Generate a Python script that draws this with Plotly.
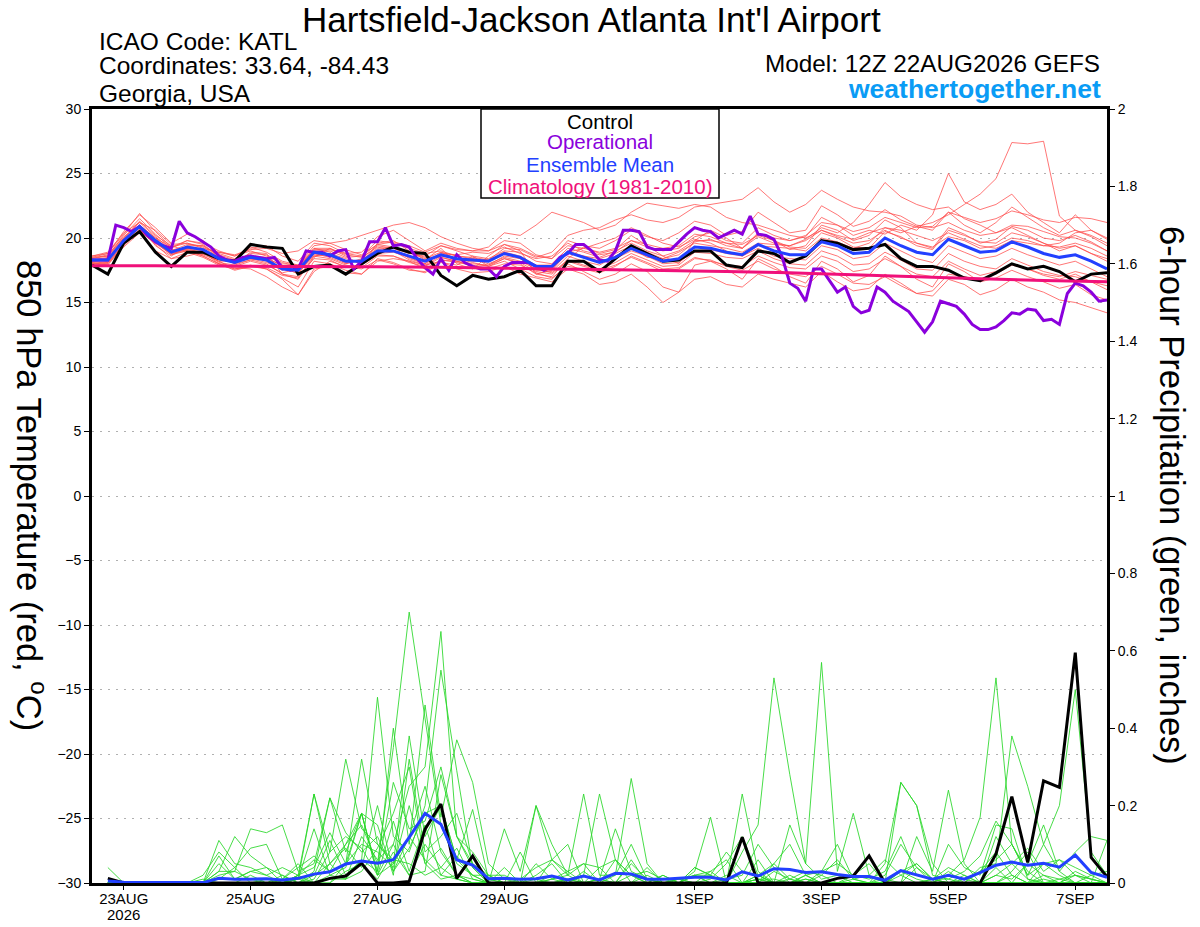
import plotly.graph_objects as go
import pandas as pd

# ---------------- DATA ----------------
run_start = "2026-08-22 12:00"
n6 = 65      # 6-hourly steps (GEFS)
n3 = 129     # 3-hourly steps (operational)
n24 = 17     # daily climatology

tick_dates = ["2026-08-23", "2026-08-25", "2026-08-27", "2026-08-29",
              "2026-09-01", "2026-09-03", "2026-09-05", "2026-09-07"]
tick_labels = ["23AUG", "25AUG", "27AUG", "29AUG", "1SEP", "3SEP", "5SEP", "7SEP"]
year_label = "2026"

control_temp = [17.9, 17.2, 19.6, 20.5, 18.9, 17.8, 18.9, 18.9, 18.4, 18.2,
                19.5, 19.3, 19.2, 17.2, 17.8, 17.9, 17.2, 18.0, 18.8, 19.3,
                18.9, 18.8, 17.1, 16.3, 17.1, 16.8, 17.0, 17.5, 16.3, 16.3,
                18.2, 18.2, 17.4, 18.4, 19.4, 18.8, 18.2, 18.3, 19.0, 19.0,
                17.9, 17.7, 19.0, 18.8, 18.1, 18.6, 19.8, 19.6, 19.1, 19.2,
                19.5, 18.4, 17.8, 17.8, 17.5, 16.9, 16.7, 17.3, 18.0, 17.6,
                17.8, 17.4, 16.6, 17.2, 17.3]

ens_mean_temp = [18.3, 18.3, 19.8, 20.9, 19.8, 18.9, 19.3, 19.1, 18.4, 18.1,
                 18.5, 18.3, 17.6, 17.5, 18.9, 18.7, 18.2, 18.2, 19.0, 19.0,
                 18.6, 18.2, 18.7, 18.4, 18.3, 18.2, 18.8, 18.5, 17.8, 17.8,
                 18.9, 18.5, 18.1, 18.5, 19.2, 18.7, 18.2, 18.4, 19.3, 19.2,
                 18.9, 18.7, 19.5, 19.0, 18.7, 18.7, 19.7, 19.4, 18.8, 18.9,
                 20.0, 19.4, 18.9, 18.7, 19.9, 19.4, 18.9, 19.0, 19.7, 19.3,
                 18.8, 18.5, 18.7, 18.2, 17.6]

operational_temp = [18.3, 18.3, 18.3, 21.0, 20.8, 20.5, 20.9, 20.2, 19.7, 19.4,
                    19.2, 21.3, 20.4, 20.1, 19.7, 19.3, 18.6, 18.3, 18.2, 18.5,
                    18.6, 18.5, 18.4, 18.5, 17.7, 17.5, 17.6, 19.0, 18.9, 18.9,
                    18.6, 19.0, 19.1, 17.6, 18.2, 19.7, 19.7, 20.8, 19.4, 19.5,
                    19.3, 18.4, 17.7, 17.2, 18.4, 17.5, 18.7, 18.1, 17.8, 17.6,
                    17.6, 17.0, 17.8, 18.1, 18.1, 18.1, 17.8, 17.5, 17.8, 18.5,
                    18.8, 19.5, 19.5, 19.0, 18.3, 18.2, 19.0, 20.6, 20.6, 20.5,
                    19.3, 19.1, 19.1, 19.1, 19.7, 20.3, 20.8, 20.6, 20.5, 20.0,
                    20.3, 20.6, 20.3, 21.7, 20.3, 20.2, 19.9, 18.6, 16.5, 16.1,
                    15.1, 17.6, 17.6, 16.7, 15.8, 16.2, 14.7, 14.2, 14.4, 16.2,
                    15.8, 15.1, 14.7, 14.3, 13.5, 12.7, 13.5, 15.1, 14.9, 14.7,
                    14.1, 13.3, 12.9, 12.9, 13.1, 13.6, 14.2, 14.1, 14.5, 14.4,
                    13.6, 13.7, 13.3, 15.7, 16.5, 16.3, 15.8, 15.1, 15.2]

climatology_temp = [17.85, 17.85, 17.82, 17.8, 17.78, 17.75, 17.7, 17.62, 17.55,
                    17.48, 17.4, 17.3, 17.15, 17.0, 16.85, 16.7, 16.6]

temp_members = [
    [18.4, 18.6, 20.2, 21.5, 20.3, 19.2, 19.8, 19.5, 18.6, 18.0, 18.9, 18.8, 17.2, 16.8, 18.5,
     19.2, 18.6, 17.9, 19.6, 19.8, 19.0, 18.3, 19.2, 18.0, 17.6, 18.6, 19.5, 19.0, 17.2, 17.0,
     18.4, 19.3, 18.8, 19.1, 20.2, 19.4, 18.6, 18.0, 19.8, 20.6, 20.0, 19.2, 20.4, 19.8, 19.1,
     19.4, 21.0, 20.6, 19.8, 20.2, 21.4, 20.8, 19.6, 19.2, 20.8, 20.3, 19.6, 19.9, 20.9, 20.6,
     20.0, 19.8, 20.2, 19.7, 19.0],
    [18.1, 17.9, 19.4, 20.6, 19.5, 18.4, 18.6, 18.9, 18.2, 17.6, 17.9, 17.6, 16.9, 16.2, 18.2,
     18.0, 17.5, 17.2, 18.4, 18.1, 17.6, 17.3, 18.1, 17.9, 18.6, 17.8, 18.2, 17.6, 17.0, 16.8,
     18.0, 17.4, 16.8, 17.2, 18.0, 17.4, 16.2, 15.8, 17.9, 18.2, 17.6, 16.8, 18.4, 17.8, 17.0,
     16.5, 18.2, 17.6, 16.6, 17.1, 18.6, 17.8, 16.8, 16.2, 18.0, 17.4, 16.6, 16.9, 17.5, 17.0,
     16.6, 16.1, 16.4, 15.6, 15.2],
    [18.5, 18.8, 20.5, 21.8, 20.8, 19.6, 20.3, 19.8, 18.8, 18.4, 19.2, 19.4, 18.6, 18.2, 19.6,
     19.4, 18.8, 18.9, 20.1, 20.6, 19.8, 19.0, 19.6, 19.2, 19.0, 19.0, 19.8, 19.6, 18.7, 18.4,
     19.8, 19.4, 19.2, 19.8, 20.6, 20.1, 19.8, 20.4, 21.3, 21.0, 20.2, 20.5, 22.0, 21.2, 20.4,
     20.6, 22.5, 21.8, 20.9, 21.3, 22.2, 21.4, 20.9, 20.6, 22.0, 21.0, 20.4, 21.2, 22.4, 21.6,
     20.8, 20.2, 20.6, 20.1, 19.4],
    [18.2, 18.4, 19.6, 20.5, 19.6, 18.7, 19.0, 18.6, 18.0, 17.8, 18.2, 17.9, 17.3, 17.6, 19.2,
     18.9, 18.0, 18.4, 19.4, 19.2, 18.8, 18.6, 19.4, 19.0, 18.6, 18.4, 19.0, 18.9, 18.2, 18.0,
     19.2, 18.9, 18.5, 19.0, 19.6, 19.0, 18.6, 19.0, 19.8, 19.8, 19.6, 19.2, 20.1, 19.6, 19.4,
     19.8, 20.6, 20.2, 19.9, 20.4, 20.8, 20.4, 20.9, 21.2, 21.8, 22.6, 23.4, 24.6, 27.4, 27.3,
     27.5, 21.7, 20.6, 20.2, 19.6],
    [18.6, 18.9, 20.4, 21.2, 20.6, 19.5, 19.6, 19.2, 18.9, 18.6, 19.0, 18.6, 18.0, 17.9, 19.4,
     19.6, 19.1, 18.7, 19.5, 19.3, 18.4, 18.0, 18.8, 18.7, 18.9, 18.8, 19.3, 18.8, 18.4, 18.6,
     19.6, 19.0, 18.7, 18.9, 19.8, 19.3, 19.0, 19.2, 20.1, 20.4, 19.8, 19.6, 20.8, 20.2, 19.8,
     20.1, 21.6, 21.0, 20.2, 20.6, 20.3, 21.0, 20.6, 21.8, 25.0, 22.8, 22.2, 22.6, 23.4, 22.0,
     21.2, 20.4, 21.8, 20.6, 19.9],
    [18.0, 18.2, 19.9, 21.0, 19.4, 18.6, 19.4, 19.4, 18.7, 18.3, 18.6, 18.5, 17.8, 17.2, 18.8,
     18.5, 18.0, 18.3, 19.2, 19.3, 18.9, 18.5, 18.5, 18.2, 17.8, 17.9, 18.6, 18.4, 17.5, 17.4,
     18.6, 18.2, 17.9, 18.6, 19.2, 18.5, 18.4, 18.9, 19.6, 19.4, 19.2, 18.9, 19.6, 19.5, 19.4,
     19.9, 20.8, 20.4, 21.2, 22.6, 24.3, 23.2, 22.6, 22.2, 22.4, 21.5, 21.0, 20.4, 20.8, 20.2,
     19.6, 19.0, 19.4, 18.8, 18.2],
    [18.3, 18.5, 20.0, 21.2, 20.1, 19.1, 19.2, 18.8, 18.3, 18.3, 18.7, 18.2, 17.5, 17.8, 19.0,
     19.0, 18.5, 18.6, 19.8, 19.6, 19.2, 18.8, 19.0, 18.6, 18.4, 18.3, 19.2, 19.1, 18.5, 18.9,
     20.2, 20.6, 20.8, 21.4, 21.8, 21.4, 21.2, 21.6, 22.4, 22.6, 22.8, 23.0, 23.9, 22.8, 22.0,
     22.6, 23.7, 23.0, 22.4, 22.1, 22.0, 21.7, 21.0, 20.8, 21.2, 20.6, 20.2, 20.4, 21.0, 20.9,
     20.5, 20.1, 20.0, 19.6, 19.0],
    [17.9, 18.0, 19.3, 20.4, 19.0, 18.4, 18.9, 18.5, 17.9, 17.6, 17.8, 17.6, 16.8, 15.6, 17.6,
     17.8, 17.3, 17.2, 18.2, 18.4, 18.2, 17.9, 18.2, 17.6, 17.3, 17.4, 17.8, 17.2, 16.9, 16.6,
     17.6, 17.2, 16.4, 16.6, 17.2, 16.2, 15.0, 15.8, 16.8, 17.0, 16.4, 16.2, 17.2, 16.8, 16.5,
     16.2, 17.4, 16.6, 15.9, 16.1, 17.2, 16.5, 15.7, 15.5, 16.8, 16.4, 15.6, 16.0, 16.8, 16.2,
     15.8, 15.2, 15.0, 14.6, 14.2],
    [18.2, 18.3, 19.7, 20.8, 19.9, 19.0, 19.1, 18.7, 18.2, 18.2, 18.4, 18.1, 17.6, 17.3, 18.6,
     18.8, 18.4, 18.0, 18.8, 18.9, 18.5, 18.0, 18.9, 18.6, 18.5, 18.3, 18.9, 18.4, 17.8, 17.6,
     18.8, 18.6, 18.2, 18.4, 19.0, 18.6, 18.0, 18.1, 19.0, 19.1, 18.8, 18.6, 19.2, 18.6, 18.4,
     18.3, 19.4, 19.1, 18.4, 18.6, 19.6, 19.0, 18.4, 18.1, 19.4, 18.9, 18.4, 18.6, 19.2, 18.7,
     18.3, 17.9, 18.2, 17.6, 17.0],
    [18.4, 18.7, 20.1, 21.0, 20.0, 19.3, 19.6, 19.3, 18.5, 18.2, 18.8, 18.7, 18.1, 17.8, 19.1,
     19.1, 18.8, 18.6, 19.5, 19.7, 19.4, 18.9, 19.4, 19.1, 19.0, 19.3, 20.4, 20.2, 21.0, 22.0,
     21.6, 21.2, 20.6, 21.0, 22.0, 22.7, 22.5, 22.3, 22.6, 22.4, 21.6, 21.2, 21.0, 20.6, 20.2,
     20.0, 20.6, 20.1, 19.6, 19.8, 20.6, 20.0, 19.6, 19.3, 20.1, 19.8, 19.2, 19.4, 20.0, 19.8,
     19.4, 19.3, 19.6, 19.2, 18.6],
    [18.1, 18.0, 19.5, 20.7, 19.6, 18.8, 19.1, 18.9, 18.0, 17.7, 17.6, 17.0, 16.2, 15.6, 17.4,
     18.2, 17.8, 17.6, 18.3, 18.0, 17.5, 17.4, 18.3, 18.1, 17.9, 17.6, 18.0, 17.9, 17.3, 16.9,
     17.8, 17.6, 17.3, 17.8, 18.6, 18.1, 17.6, 17.7, 18.5, 18.2, 17.9, 17.8, 18.6, 18.1, 17.7,
     17.6, 18.6, 18.2, 17.4, 17.6, 18.4, 17.8, 17.2, 17.0, 18.2, 17.6, 17.1, 17.4, 18.0, 17.6,
     17.1, 16.8, 17.2, 16.6, 16.0],
    [18.5, 18.6, 20.0, 21.3, 20.2, 19.4, 19.0, 18.7, 18.9, 18.7, 19.1, 19.2, 18.8, 19.0, 19.8,
     19.6, 19.8, 20.2, 20.6, 21.0, 21.2, 20.8, 20.1, 19.6, 19.2, 19.0, 19.5, 19.2, 18.6, 18.4,
     19.4, 19.2, 18.9, 19.2, 19.8, 19.5, 19.2, 19.4, 20.3, 20.1, 19.6, 19.5, 20.2, 19.8, 19.3,
     19.2, 20.4, 20.0, 19.3, 19.2, 20.5, 20.1, 19.4, 19.1, 20.6, 20.2, 19.7, 19.6, 20.4, 20.1,
     19.6, 19.2, 19.4, 18.8, 18.4],
    [18.3, 18.4, 19.8, 21.0, 20.0, 19.0, 19.5, 19.4, 18.6, 18.0, 18.3, 18.4, 17.9, 17.4, 18.7,
     18.6, 18.1, 18.3, 19.1, 19.2, 18.9, 18.4, 18.9, 18.4, 18.2, 18.2, 18.9, 18.6, 17.9, 17.9,
     19.0, 18.6, 18.4, 18.8, 19.4, 18.9, 18.4, 18.7, 19.7, 19.9, 19.4, 19.2, 20.3, 20.0, 19.8,
     20.2, 21.2, 21.0, 20.5, 20.8, 21.6, 21.2, 20.8, 20.9, 22.0, 21.6, 21.2, 21.5, 22.1, 21.8,
     21.4, 21.2, 21.6, 21.5, 21.2],
    [18.0, 18.1, 19.5, 20.6, 19.7, 18.7, 19.2, 19.0, 18.1, 17.9, 18.3, 18.0, 17.2, 17.0, 18.4,
     18.3, 17.7, 17.9, 18.7, 18.6, 18.1, 17.8, 18.5, 18.2, 18.0, 17.9, 18.4, 18.1, 17.4, 17.2,
     18.2, 17.8, 17.5, 17.9, 18.5, 18.0, 17.4, 17.6, 18.4, 18.3, 17.8, 17.5, 18.2, 17.6, 17.2,
     17.0, 17.8, 17.2, 16.5, 16.4, 17.0, 16.3, 15.7, 15.9, 17.2, 17.0, 16.8, 17.2, 17.9, 17.6,
     17.2, 17.0, 17.4, 17.1, 16.8],
    [18.6, 18.8, 20.3, 21.9, 20.5, 19.3, 19.8, 19.6, 19.0, 18.6, 19.3, 18.9, 18.2, 17.9, 19.2,
     19.2, 18.7, 18.5, 19.3, 19.0, 18.3, 17.9, 18.6, 18.4, 18.1, 17.8, 18.4, 18.0, 17.2, 17.5,
     18.9, 19.2, 19.6, 20.0, 20.8, 20.2, 19.6, 19.3, 19.9, 19.6, 19.0, 18.6, 19.4, 19.3, 19.2,
     19.0, 20.0, 19.7, 19.2, 19.6, 20.8, 20.6, 20.2, 19.8, 20.4, 19.9, 19.4, 19.2, 19.8, 19.6,
     19.4, 19.6, 20.4, 20.6, 20.0],
    [18.2, 18.1, 19.6, 20.8, 19.7, 18.8, 19.0, 18.6, 18.0, 17.5, 17.8, 17.7, 17.1, 16.9, 18.6,
     18.4, 17.9, 17.7, 18.6, 18.6, 18.2, 17.6, 18.3, 18.2, 18.4, 18.0, 18.5, 18.2, 17.6, 17.3,
     18.3, 17.9, 17.6, 18.1, 18.8, 18.3, 17.8, 17.9, 18.9, 18.8, 18.5, 18.4, 19.0, 18.4, 18.0,
     17.9, 19.0, 18.6, 17.9, 18.0, 18.9, 18.3, 17.6, 17.5, 18.8, 18.2, 17.8, 17.6, 18.4, 17.9,
     17.4, 17.1, 17.0, 16.6, 16.3],
]

# precipitation starts at the first 6-hour step (22AUG 18Z)
control_precip = [0.012, 0, 0, 0, 0, 0, 0, 0, 0, 0,
                  0, 0, 0, 0, 0.012, 0.018, 0.051, 0, 0, 0.004,
                  0.139, 0.204, 0.012, 0.07, 0, 0, 0, 0, 0, 0,
                  0, 0, 0, 0, 0, 0, 0, 0, 0, 0,
                  0.118, 0, 0, 0, 0, 0, 0.012, 0.018, 0.07, 0,
                  0, 0, 0, 0, 0, 0, 0.075, 0.223, 0.053, 0.264,
                  0.247, 0.595, 0.066, 0.016]

ens_mean_precip = [0.005, 0.002, 0.001, 0.001, 0.001, 0.001, 0.001, 0.012, 0.01, 0.01,
                   0.011, 0.008, 0.012, 0.023, 0.029, 0.049, 0.057, 0.051, 0.06, 0.118,
                   0.18, 0.152, 0.06, 0.046, 0.011, 0.012, 0.01, 0.011, 0.018, 0.008,
                   0.018, 0.008, 0.025, 0.023, 0.01, 0.01, 0.012, 0.015, 0.015, 0.008,
                   0.029, 0.018, 0.037, 0.035, 0.027, 0.029, 0.022, 0.017, 0.017, 0.007,
                   0.032, 0.021, 0.01, 0.02, 0.01, 0.027, 0.046, 0.054, 0.046, 0.051,
                   0.041, 0.072, 0.027, 0.015]

precip_members = [
    [0.04, 0, 0, 0, 0, 0, 0, 0.02, 0.03, 0.01, 0, 0, 0.02, 0.06, 0.03, 0.1,
     0.15, 0.05, 0.35, 0.70, 0.42, 0.15, 0.05, 0.02, 0, 0, 0, 0.01, 0, 0, 0, 0,
     0, 0.05, 0.01, 0, 0, 0, 0, 0.02, 0, 0, 0.03, 0.01, 0, 0, 0, 0.01,
     0, 0, 0, 0, 0.01, 0, 0, 0, 0.02, 0.05, 0.01, 0, 0, 0.03, 0.01, 0],
    [0, 0, 0, 0, 0, 0, 0, 0.05, 0.01, 0.03, 0.04, 0, 0, 0.01, 0.08, 0.12,
     0.09, 0.02, 0.1, 0.25, 0.3, 0.65, 0.12, 0.05, 0.02, 0, 0, 0, 0, 0.01, 0, 0,
     0, 0, 0, 0, 0, 0.04, 0.02, 0, 0, 0, 0, 0.01, 0, 0.02, 0, 0,
     0, 0, 0, 0, 0, 0.03, 0, 0, 0, 0, 0, 0.02, 0.01, 0, 0, 0],
    [0, 0, 0, 0, 0, 0, 0, 0, 0, 0, 0.01, 0, 0.02, 0.23, 0.05, 0.01,
     0.06, 0.48, 0.12, 0.08, 0.2, 0.55, 0.29, 0.04, 0, 0, 0, 0.02, 0.05, 0, 0, 0,
     0, 0, 0, 0, 0, 0, 0, 0, 0, 0.01, 0, 0.02, 0, 0, 0, 0,
     0, 0, 0, 0.04, 0.01, 0, 0, 0, 0, 0, 0, 0, 0, 0, 0.02, 0],
    [0, 0, 0, 0, 0, 0, 0, 0.03, 0.12, 0.07, 0.04, 0.02, 0, 0.03, 0.22, 0.08,
     0.18, 0.03, 0.4, 0.1, 0.46, 0.17, 0.37, 0.26, 0.05, 0.01, 0, 0.2, 0.1, 0.02, 0, 0.01,
     0, 0.02, 0, 0, 0, 0.02, 0, 0, 0, 0, 0, 0, 0, 0, 0, 0,
     0, 0.05, 0.26, 0.2, 0.05, 0, 0.02, 0, 0, 0, 0, 0, 0, 0.02, 0, 0.11],
    [0, 0, 0, 0, 0, 0, 0.01, 0, 0, 0, 0, 0.02, 0, 0, 0, 0.05,
     0.32, 0.1, 0.05, 0.38, 0.12, 0.2, 0.06, 0.19, 0.01, 0, 0, 0, 0, 0, 0.02, 0.23,
     0.06, 0, 0, 0, 0.01, 0, 0, 0, 0.08, 0.15, 0.53, 0.28, 0.05, 0.01, 0.02, 0,
     0, 0.01, 0, 0, 0, 0, 0, 0.03, 0.08, 0.02, 0, 0.05, 0.02, 0, 0, 0],
    [0, 0, 0, 0, 0, 0, 0, 0, 0, 0.02, 0, 0, 0.01, 0.14, 0.02, 0.04,
     0.18, 0.02, 0.05, 0.12, 0.06, 0.02, 0.01, 0, 0, 0.04, 0, 0, 0, 0.01, 0, 0,
     0.02, 0.1, 0.01, 0, 0, 0, 0.03, 0, 0, 0.06, 0, 0.15, 0.05, 0.57, 0.03, 0.18,
     0.02, 0, 0.03, 0.01, 0, 0, 0.01, 0, 0.04, 0, 0, 0.01, 0, 0, 0, 0],
    [0, 0, 0, 0, 0, 0, 0, 0, 0, 0, 0, 0, 0, 0, 0, 0.03,
     0.05, 0.01, 0.08, 0.02, 0.03, 0.28, 0.12, 0.04, 0, 0, 0, 0, 0, 0, 0, 0,
     0, 0, 0, 0, 0, 0, 0.01, 0.05, 0.12, 0.02, 0, 0, 0.01, 0, 0, 0,
     0, 0, 0.03, 0.05, 0.01, 0.02, 0.06, 0.17, 0.53, 0.1, 0.03, 0, 0.01, 0.02, 0.01, 0],
    [0, 0, 0, 0, 0, 0, 0, 0, 0, 0, 0, 0, 0.02, 0, 0.02, 0.01,
     0.03, 0.09, 0.18, 0.3, 0.05, 0.09, 0.02, 0, 0, 0, 0.08, 0, 0, 0, 0, 0,
     0, 0, 0, 0, 0, 0, 0, 0, 0, 0, 0.05, 0.1, 0.02, 0, 0, 0,
     0, 0, 0, 0, 0, 0, 0, 0.04, 0.05, 0.38, 0.25, 0.1, 0.2, 0.5, 0.08, 0.02],
    [0, 0, 0, 0, 0, 0, 0, 0.01, 0.04, 0, 0, 0, 0.01, 0, 0.05, 0.09,
     0.04, 0.2, 0.03, 0.12, 0.25, 0.08, 0.02, 0.01, 0, 0, 0, 0, 0.01, 0.02, 0.05, 0,
     0, 0, 0, 0.02, 0, 0.03, 0.17, 0, 0.23, 0.03, 0, 0, 0, 0, 0, 0.02,
     0.05, 0, 0.26, 0.2, 0.02, 0.01, 0, 0, 0, 0, 0.05, 0.02, 0, 0, 0, 0],
    [0, 0, 0, 0, 0, 0, 0, 0, 0, 0, 0, 0.01, 0.05, 0, 0.01, 0.01,
     0.12, 0.06, 0.1, 0.02, 0.1, 0.04, 0.01, 0, 0, 0, 0.01, 0.04, 0.06, 0.02, 0.23, 0.02,
     0.02, 0.27, 0.05, 0, 0.01, 0.02, 0.02, 0, 0, 0.01, 0.01, 0, 0.02, 0, 0, 0,
     0, 0, 0, 0.12, 0.03, 0.24, 0.05, 0, 0.02, 0.01, 0.05, 0.15, 0.03, 0, 0, 0],
    [0, 0, 0, 0, 0, 0, 0.02, 0.08, 0.04, 0.09, 0.1, 0.01, 0.04, 0.07, 0.03, 0.05,
     0.1, 0.08, 0.04, 0.2, 0.05, 0.01, 0.02, 0, 0, 0.14, 0.03, 0.2, 0.06, 0.03, 0, 0.01,
     0.14, 0.03, 0.01, 0, 0, 0.02, 0.03, 0.06, 0, 0.02, 0.05, 0.01, 0.03, 0.02, 0.06, 0.01,
     0, 0.02, 0.1, 0.04, 0, 0.02, 0.01, 0.03, 0.06, 0.1, 0.02, 0.05, 0.06, 0.04, 0.02, 0.03],
    [0, 0, 0, 0, 0, 0, 0, 0, 0, 0, 0, 0, 0.01, 0.23, 0.08, 0.32,
     0.14, 0.1, 0.06, 0.05, 0.02, 0.04, 0.09, 0.01, 0, 0, 0, 0, 0.02, 0, 0, 0.04,
     0, 0, 0.02, 0, 0.01, 0, 0, 0, 0, 0.02, 0, 0, 0, 0, 0, 0,
     0, 0, 0, 0, 0.01, 0, 0, 0, 0, 0.02, 0, 0, 0, 0, 0, 0],
    [0, 0, 0, 0, 0, 0, 0, 0.03, 0.03, 0.14, 0.13, 0.15, 0.03, 0.05, 0.22, 0.13,
     0.08, 0.12, 0.03, 0.09, 0.18, 0.2, 0.06, 0.02, 0.02, 0, 0, 0, 0, 0, 0, 0,
     0, 0, 0.04, 0, 0, 0.02, 0, 0, 0, 0.01, 0, 0, 0.01, 0, 0, 0,
     0, 0, 0, 0, 0, 0, 0, 0, 0, 0.03, 0.08, 0, 0, 0, 0, 0],
    [0, 0, 0, 0, 0, 0, 0, 0.11, 0.05, 0.04, 0.02, 0, 0.01, 0.02, 0.05, 0.1,
     0.18, 0.15, 0.02, 0.32, 0.08, 0.12, 0.18, 0.05, 0.01, 0, 0, 0, 0.06, 0.1, 0, 0.01,
     0, 0.06, 0, 0.02, 0, 0.04, 0.02, 0.08, 0.03, 0.02, 0, 0, 0, 0.03, 0.05, 0.02,
     0.01, 0.03, 0.12, 0.02, 0.01, 0.04, 0.02, 0, 0.12, 0.05, 0.09, 0.03, 0.06, 0.02, 0.01, 0],
    [0, 0, 0, 0, 0, 0, 0, 0.07, 0.01, 0.03, 0.02, 0.04, 0.02, 0.04, 0.13, 0.05,
     0.18, 0.02, 0.16, 0.03, 0.15, 0.02, 0.07, 0.02, 0, 0, 0, 0.05, 0.01, 0, 0.03, 0,
     0.06, 0.02, 0.03, 0.01, 0, 0, 0, 0.01, 0.02, 0.1, 0.04, 0, 0.02, 0.03, 0.1, 0.01,
     0.02, 0.06, 0.02, 0.05, 0.01, 0.01, 0.03, 0.07, 0.16, 0.1, 0.02, 0.1, 0.03, 0.08, 0.12, 0.11],
    [0, 0, 0, 0, 0, 0, 0, 0, 0, 0, 0, 0, 0, 0.02, 0.11, 0.02,
     0.06, 0.03, 0.26, 0.14, 0.16, 0.3, 0.12, 0.08, 0.02, 0.02, 0, 0, 0.01, 0.03, 0.05, 0.04,
     0.06, 0.02, 0, 0, 0, 0, 0, 0, 0, 0, 0, 0, 0, 0, 0, 0,
     0, 0, 0.02, 0, 0, 0.1, 0.04, 0.02, 0.15, 0.14, 0.01, 0, 0, 0, 0, 0],
]

# ---------------- FIGURE ----------------
times6 = pd.date_range(run_start, periods=n6, freq="6h")
times3 = pd.date_range(run_start, periods=n3, freq="3h")
times24 = pd.date_range(run_start, periods=n24, freq="24h")

FONT = "Liberation Sans, Arial, Helvetica, sans-serif"
RED = "rgba(255,75,75,0.85)"
GREEN = "rgba(40,215,40,0.95)"
PURPLE = "#8a00dc"
BLUE = "#2240ff"
PINK = "#f0107a"

fig = go.Figure()

for m in temp_members:
    fig.add_trace(go.Scatter(x=times6, y=m, mode="lines", yaxis="y",
                             line=dict(color=RED, width=0.9), hoverinfo="skip"))
fig.add_trace(go.Scatter(x=times6, y=control_temp, mode="lines", yaxis="y",
                         line=dict(color="black", width=3)))
fig.add_trace(go.Scatter(x=times3, y=operational_temp, mode="lines", yaxis="y",
                         line=dict(color=PURPLE, width=3)))
fig.add_trace(go.Scatter(x=times6, y=ens_mean_temp, mode="lines", yaxis="y",
                         line=dict(color=BLUE, width=3)))
fig.add_trace(go.Scatter(x=times24, y=climatology_temp, mode="lines", yaxis="y",
                         line=dict(color=PINK, width=3, shape="spline")))

for p in precip_members:
    fig.add_trace(go.Scatter(x=times6[1:], y=p, mode="lines", yaxis="y2",
                             line=dict(color=GREEN, width=0.9), hoverinfo="skip"))
fig.add_trace(go.Scatter(x=times6[1:], y=control_precip, mode="lines", yaxis="y2",
                         line=dict(color="black", width=3)))
fig.add_trace(go.Scatter(x=times6[1:], y=ens_mean_precip, mode="lines", yaxis="y2",
                         line=dict(color=BLUE, width=3)))

L, R, T, B = 92, 93, 109, 44
W, H = 1200, 927
PW, PH = W - L - R, H - T - B


def px(xp):
    return (xp - L) / PW


def py(yp):
    return (H - B - yp) / PH


annotations = [
    dict(text="Hartsfield-Jackson Atlanta Int'l Airport", x=px(591), y=py(19),
         xanchor="center", yanchor="middle", font=dict(size=35)),
    dict(text="ICAO Code: KATL", x=px(97), y=py(41), xanchor="left", yanchor="middle",
         font=dict(size=24.5)),
    dict(text="Coordinates: 33.64, -84.43", x=px(97), y=py(66), xanchor="left",
         yanchor="middle", font=dict(size=24.5)),
    dict(text="Georgia, USA", x=px(97), y=py(93), xanchor="left", yanchor="middle",
         font=dict(size=24.5)),
    dict(text="Model: 12Z 22AUG2026 GEFS", x=px(1102), y=py(64), xanchor="right",
         yanchor="middle", font=dict(size=24.3)),
    dict(text="<b>weathertogether.net</b>", x=px(1103), y=py(89), xanchor="right",
         yanchor="middle", font=dict(size=26.5, color="#0a9cf5")),
    dict(text="Control", x=px(600), y=py(121), xanchor="center", yanchor="middle",
         font=dict(size=20.5, color="black")),
    dict(text="Operational", x=px(600), y=py(142), xanchor="center", yanchor="middle",
         font=dict(size=20.5, color=PURPLE)),
    dict(text="Ensemble Mean", x=px(600), y=py(164), xanchor="center", yanchor="middle",
         font=dict(size=20.5, color=BLUE)),
    dict(text="Climatology (1981-2010)", x=px(600), y=py(186), xanchor="center",
         yanchor="middle", font=dict(size=20.5, color=PINK)),
    dict(text="850 hPa Temperature (red, <sup>o</sup>C)", x=px(31), y=py(495),
         xanchor="center", yanchor="middle", textangle=90, font=dict(size=34.5)),
    dict(text="6-hour Precipitation (green, inches)", x=px(1172), y=py(495),
         xanchor="center", yanchor="middle", textangle=90, font=dict(size=34.5)),
]
for a in annotations:
    a.update(xref="paper", yref="paper", showarrow=False)
annotations.append(dict(text=year_label, x=tick_dates[0], xref="x", y=py(915), yref="paper",
                        xanchor="center", yanchor="middle", showarrow=False,
                        font=dict(size=15)))

fig.update_layout(
    width=W, height=H,
    margin=dict(l=L, r=R, t=T, b=B, pad=0, autoexpand=False),
    paper_bgcolor="white", plot_bgcolor="white",
    showlegend=False, hovermode=False,
    font=dict(family=FONT, color="black"),
    xaxis=dict(type="date", range=[times6[0], times6[-1]], showgrid=False, zeroline=False,
               showline=True, linecolor="black", linewidth=3, mirror=True, automargin=False,
               ticks="outside", ticklen=4, tickwidth=1, tickcolor="black",
               ticklabelstandoff=-4,
               tickvals=pd.to_datetime(tick_dates), ticktext=tick_labels,
               tickfont=dict(size=15)),
    yaxis=dict(range=[-30, 30], tick0=0, dtick=5, showgrid=True, gridcolor="#b0b0b0",
               griddash="2px,6px", gridwidth=1, zeroline=False, showline=True, automargin=False,
               linecolor="black", linewidth=3, ticks="outside", ticklen=5, tickwidth=1,
               tickcolor="black", tickfont=dict(size=14)),
    yaxis2=dict(range=[0, 2], tick0=0, dtick=0.2, overlaying="y", side="right",
                showgrid=False, zeroline=False, showline=True, linecolor="black",
                automargin=False,
                linewidth=3, ticks="outside", ticklen=5, tickwidth=1, tickcolor="black",
                tickfont=dict(size=14)),
    annotations=annotations,
    shapes=[dict(type="rect", xref="paper", yref="paper", x0=px(481), x1=px(719),
                 y0=py(198), y1=1.0, fillcolor="white", line=dict(color="black", width=1.5),
                 layer="above")],
)

fig.write_html("out.html", config={"displayModeBar": False},
               post_script="document.body.style.margin='0px';document.body.style.overflow='hidden';")
